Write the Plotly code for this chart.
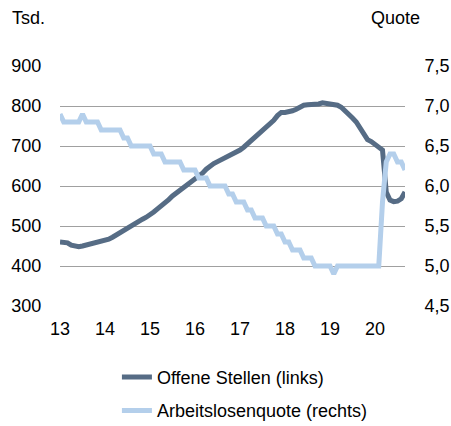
import plotly.graph_objects as go

# Monthly data Jan 2013 .. Sep 2020 (index 0..92)
offene_stellen = [
    460, 460, 458, 452, 449, 448, 450, 452, 455, 456, 458, 460,
    464, 467, 472, 478, 482, 488, 496, 502, 507, 512, 517, 522,
    527, 535, 543, 550, 558, 566, 575, 582, 590, 598, 606, 613,
    618, 624, 632, 642, 650, 656, 661, 666, 670, 674, 678, 684,
    690, 697, 705, 712, 720, 728, 737, 745, 753, 764, 776, 784,
    784, 785, 788, 792, 797, 802, 803, 803, 804, 805, 808, 807,
    806, 806, 802, 797, 789, 780, 770, 760, 745, 730, 716, 711,
    705, 699, 690, 585, 565, 561, 562, 568, 585,
]
arbeitslosenquote = [
    6.9, 6.8, 6.8, 6.8, 6.8, 6.8, 6.9, 6.8, 6.8, 6.8, 6.8, 6.7,
    6.7, 6.7, 6.7, 6.7, 6.7, 6.6, 6.6, 6.5, 6.5, 6.5, 6.5, 6.5,
    6.5, 6.4, 6.4, 6.4, 6.3, 6.3, 6.3, 6.3, 6.3, 6.2, 6.2, 6.2,
    6.2, 6.1, 6.1, 6.1, 6.0, 6.0, 6.0, 6.0, 6.0, 5.9, 5.9, 5.8,
    5.8, 5.8, 5.7, 5.7, 5.6, 5.6, 5.6, 5.5, 5.5, 5.5, 5.4, 5.4,
    5.3, 5.3, 5.2, 5.2, 5.2, 5.1, 5.1, 5.1, 5.0, 5.0, 5.0, 5.0,
    5.0, 4.9, 5.0, 5.0, 5.0, 5.0, 5.0, 5.0, 5.0, 5.0, 5.0, 5.0,
    5.0, 5.0, 5.8, 6.3, 6.4, 6.4, 6.3, 6.3, 6.2,
]
months = list(range(len(offene_stellen)))
year_ticks = [0, 12, 24, 36, 48, 60, 72, 84]
year_labels = ["13", "14", "15", "16", "17", "18", "19", "20"]
left_ticks = [300, 400, 500, 600, 700, 800, 900]
right_ticks = [4.5, 5.0, 5.5, 6.0, 6.5, 7.0, 7.5]

DARK = "#566c85"
LIGHT = "#b4cfeb"
GRID = "#a0a0a0"
FONT = "Liberation Sans, Arial, sans-serif"
CLEAR = "rgba(0,0,0,0)"

fig = go.Figure()
fig.add_trace(go.Scatter(
    x=months, y=arbeitslosenquote, mode="lines", name="Arbeitslosenquote (rechts)",
    line=dict(color=LIGHT, width=5), yaxis="y2", legendrank=2, legendgroup="b",
))
fig.add_trace(go.Scatter(
    x=months, y=offene_stellen, mode="lines", name="Offene Stellen (links)",
    line=dict(color=DARK, width=5), yaxis="y", legendrank=1, legendgroup="a",
))

fig.update_layout(
    width=451, height=426,
    margin=dict(l=60, r=46, t=66, b=120, autoexpand=False),
    paper_bgcolor="white", plot_bgcolor="white",
    separators=",.",
    font=dict(family=FONT, size=18, color="#000000"),
    showlegend=True,
    legend=dict(
        orientation="v", x=0.165, y=-0.22, xanchor="left", yanchor="top",
        traceorder="grouped", tracegroupgap=7,
        font=dict(size=18), bgcolor=CLEAR,
    ),
    xaxis=dict(
        range=[0, 92], tickmode="array", tickvals=year_ticks, ticktext=year_labels,
        showgrid=False, zeroline=False, showline=False,
        ticks="outside", ticklen=6, tickcolor=CLEAR,
    ),
    yaxis=dict(
        range=[300, 900], tickmode="array", tickvals=left_ticks,
        showgrid=True, gridcolor=GRID, gridwidth=1, zeroline=False,
        showline=False, ticks="outside", ticklen=14, tickcolor=CLEAR,
    ),
    yaxis2=dict(
        range=[4.5, 7.5], tickmode="array", tickvals=right_ticks, tickformat=".1f",
        overlaying="y", side="right", showgrid=False, zeroline=False,
        showline=False, ticks="outside", ticklen=15, tickcolor=CLEAR,
    ),
    annotations=[
        dict(text="Tsd.", x=0, y=1, xref="paper", yref="paper", xanchor="left",
             yanchor="top", showarrow=False, font=dict(size=18), xshift=-50, yshift=60),
        dict(text="Quote", x=1, y=1, xref="paper", yref="paper", xanchor="right",
             yanchor="top", showarrow=False, font=dict(size=18), xshift=17, yshift=60),
    ],
)

fig.write_html(
    "out.html",
    config={"displayModeBar": False},
    post_script="document.body.style.margin='0px';document.body.style.overflow='hidden';",
)
